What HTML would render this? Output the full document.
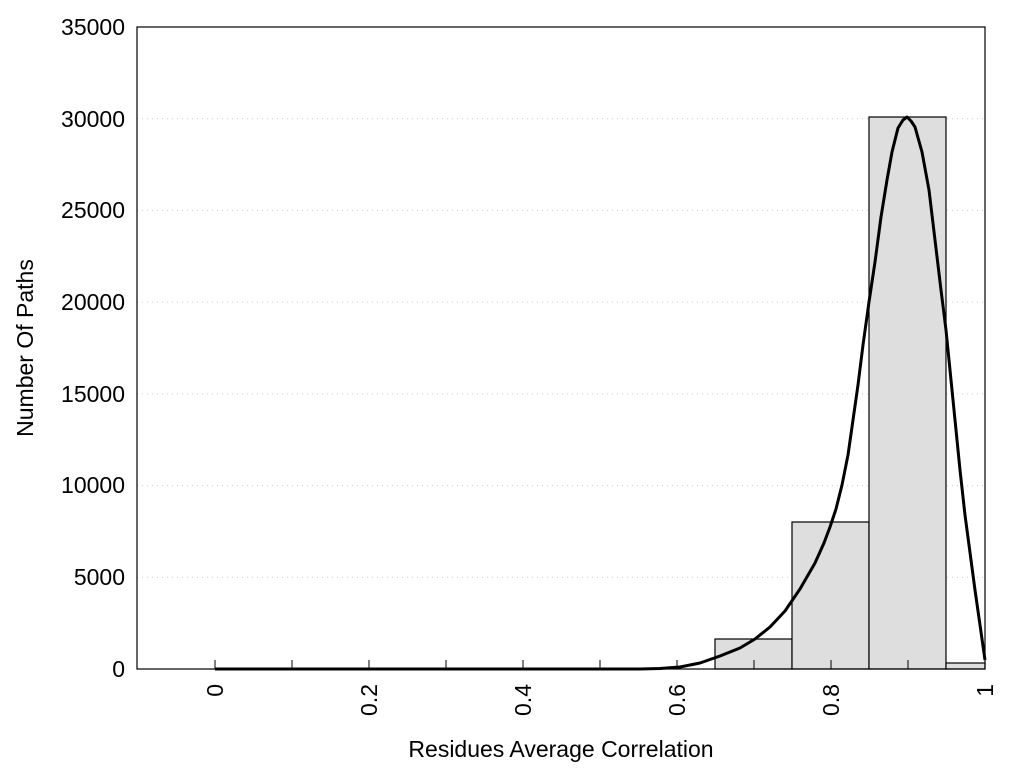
<!DOCTYPE html><html><head><style>body{margin:0;background:#fff}svg{display:block;font-family:"Liberation Sans",sans-serif}</style></head><body>
<svg width="1024" height="768" viewBox="0 0 1024 768">
<g stroke="#ccc" stroke-dasharray="1,4" stroke-width="1">
<line x1="137" x2="985" y1="577.3" y2="577.3"/><line x1="137" x2="985" y1="485.6" y2="485.6"/><line x1="137" x2="985" y1="393.9" y2="393.9"/><line x1="137" x2="985" y1="302.1" y2="302.1"/><line x1="137" x2="985" y1="210.4" y2="210.4"/><line x1="137" x2="985" y1="118.7" y2="118.7"/>
</g>
<g fill="#dedede" stroke="#000" stroke-width="1.2">
<rect x="715" y="639" width="77" height="30"/><rect x="792" y="522" width="77" height="147"/><rect x="869" y="117" width="77" height="552"/><rect x="946" y="663" width="39" height="6"/>
</g>
<rect x="137" y="27" width="848" height="642" fill="none" stroke="#000" stroke-width="1.2"/>
<g stroke="#000" stroke-width="1"><line x1="215" x2="215" y1="669" y2="660"/><line x1="292" x2="292" y1="669" y2="660"/><line x1="369" x2="369" y1="669" y2="660"/><line x1="446" x2="446" y1="669" y2="660"/><line x1="523" x2="523" y1="669" y2="660"/><line x1="600" x2="600" y1="669" y2="660"/><line x1="677" x2="677" y1="669" y2="660"/><line x1="754" x2="754" y1="669" y2="660"/><line x1="831" x2="831" y1="669" y2="660"/><line x1="908" x2="908" y1="669" y2="660"/></g>
<polyline fill="none" stroke="#000" stroke-width="3" stroke-linejoin="round" points="215,669 640,669 660,668.5 680,667 700,663 720,656 740,648 755,639 770,627 785,611 800,589 815,563 824,543 830,527 836,509 842,485 848,455 853,420 858,385 863,345 869,302 875,262 881,217 887,180 892,152 898,128 903,120 907,117 911,121 915,127 922,152 929,190 935,240 941,290 946,330 950,370 955,420 960,470 965,515 975,590 985,660"/>
<g font-size="23" text-anchor="end" fill="#000">
<text x="125" y="677">0</text><text x="125" y="585">5000</text><text x="125" y="493">10000</text><text x="125" y="402">15000</text><text x="125" y="310">20000</text><text x="125" y="218">25000</text><text x="125" y="127">30000</text><text x="125" y="35">35000</text>
</g>
<g font-size="23" fill="#000" text-anchor="end">
<text transform="translate(223,684) rotate(-90)">0</text><text transform="translate(377,684) rotate(-90)">0.2</text><text transform="translate(531,684) rotate(-90)">0.4</text><text transform="translate(685,684) rotate(-90)">0.6</text><text transform="translate(839,684) rotate(-90)">0.8</text><text transform="translate(993,684) rotate(-90)">1</text>
</g>
<text x="561" y="757" font-size="23" text-anchor="middle">Residues Average Correlation</text>
<text transform="translate(33,348) rotate(-90)" font-size="23" text-anchor="middle">Number Of Paths</text>
</svg></body></html>
